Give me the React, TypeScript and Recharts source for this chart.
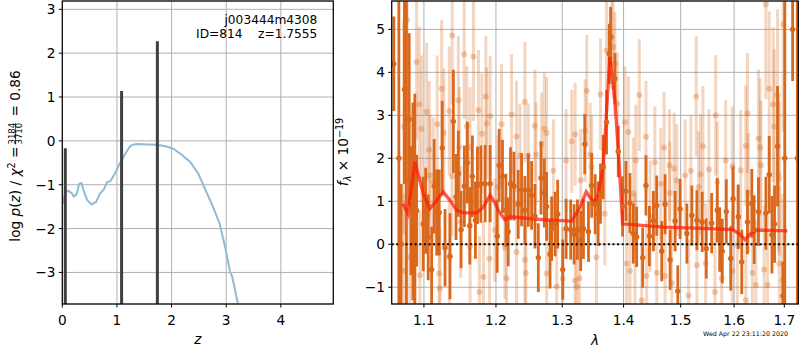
import React from "react";
import {
  CartesianGrid,
  ComposedChart,
  ErrorBar,
  Line,
  ReferenceLine,
  Scatter,
  XAxis,
  YAxis,
} from "recharts";

const FONT = "DejaVu Sans, sans-serif";
const GRID = "#b0b0b0";
const DARK = "#d9681c";
const LIGHT_BAR = "rgba(217,104,28,0.28)";
const LIGHT_DOT = "rgba(217,104,28,0.32)";

// left panel: log p(z)
const pzZ = [0.02, 0.05, 0.11, 0.17, 0.21, 0.26, 0.31, 0.35, 0.4, 0.46, 0.54, 0.62, 0.69, 0.76, 0.82, 0.88, 0.96, 1.05, 1.15, 1.24, 1.3, 1.39, 1.54, 1.73, 1.91, 2.03, 2.18, 2.34, 2.49, 2.61, 2.76, 2.88, 2.98, 3.07, 3.11, 3.2, 3.24];
const pzLog = [-1.43, -1.17, -1.14, -1.19, -1.27, -1.22, -0.98, -0.96, -1.17, -1.36, -1.45, -1.39, -1.2, -1.11, -0.94, -0.92, -0.75, -0.52, -0.3, -0.12, -0.08, -0.07, -0.08, -0.09, -0.13, -0.18, -0.31, -0.48, -0.75, -1.09, -1.51, -1.89, -2.42, -2.98, -3.1, -3.63, -3.86];
const spikeZ = [0.055, 1.085, 1.74];
const spikeTop = [-0.17, 1.14, 2.27];
const zTicks = [0, 1, 2, 3, 4];
const pTicks = [-3, -2, -1, 0, 1, 2, 3];

// right panel: spectrum, [lambda, flux, error]
const darkPts = [
  [1.0607, 4.2, 1.1], [1.0672, 2.0, 5.0], [1.0702, 0.0, 1.4], [1.0744, 3.6, 2.2],
  [1.077, 1.5, 5.0], [1.0806, 2.91, 2.0], [1.0829, 0.78, 1.5], [1.0855, 1.0, 2.3],
  [1.088, 0.5, 3.0], [1.0903, 0.78, 1.3], [1.0991, 0.47, 1.1], [1.1023, 0.78, 1.0],
  [1.1057, 0.16, 1.0], [1.1103, -0.59, 1.0], [1.1137, 1.35, 1.1], [1.1171, 0.74, 1.0],
  [1.1205, 0.74, 1.0], [1.1246, 2.24, 1.1], [1.1284, -0.08, 0.9], [1.1352, -0.28, 1.0],
  [1.1398, 2.86, 1.2], [1.1435, 1.1, 1.0], [1.1467, 1.64, 1.0], [1.1505, 0.34, 0.9],
  [1.1551, 1.35, 0.95], [1.1593, 1.9, 0.95], [1.1627, 0.43, 0.9], [1.1663, 1.58, 0.95],
  [1.1706, 0.56, 0.9], [1.1735, 1.37, 0.9], [1.1783, 1.4, 0.9], [1.1844, 1.41, 0.9],
  [1.1916, 1.41, 0.9], [1.2018, 0.19, 0.85], [1.2047, 1.84, 0.85], [1.2095, 1.58, 0.85],
  [1.2145, 0.79, 0.85], [1.2179, 0.29, 0.8], [1.2213, 1.41, 0.85], [1.2263, 1.35, 0.8],
  [1.2327, 0.93, 0.8], [1.2377, 1.27, 0.85], [1.2427, 0.79, 0.8], [1.2478, 1.26, 0.85],
  [1.2528, 1.14, 0.8], [1.2579, 0.65, 0.75], [1.263, -0.31, 0.8], [1.2671, 1.54, 0.85],
  [1.2722, 1.19, 0.8], [1.2757, 0.88, 0.8], [1.281, -0.23, 0.8], [1.2835, 0.36, 0.75],
  [1.2888, 0.47, 0.75], [1.2929, 0.7, 0.8], [1.3008, -0.59, 0.7], [1.3061, 0.36, 0.7],
  [1.3134, 0.34, 0.7], [1.3188, 0.23, 0.7], [1.3241, 0.34, 0.7], [1.3294, 0.08, 0.7],
  [1.3338, 0.36, 0.7], [1.3359, 2.33, 0.7], [1.3419, 0.29, 0.7], [1.3472, 1.37, 0.75],
  [1.3528, 0.93, 0.7], [1.3577, 0.71, 0.75], [1.3615, 1.18, 0.7], [1.366, 1.8, 0.75],
  [1.3715, 2.84, 0.75], [1.376, 4.43, 0.7], [1.3782, 4.82, 0.7], [1.3854, 3.85, 0.6],
  [1.3911, 2.16, 0.6], [1.3984, 0.88, 0.7], [1.404, 1.24, 0.7], [1.4108, 0.96, 0.7],
  [1.4166, 0.25, 0.7], [1.4223, 0.17, 0.7], [1.4327, -0.31, 0.7], [1.4384, 1.37, 0.7],
  [1.4444, 0.19, 0.7], [1.4514, 0.54, 0.7], [1.4572, 0.9, 0.7], [1.4661, -0.16, 0.7],
  [1.472, 0.93, 0.7], [1.481, -0.36, 0.7], [1.49, 0.54, 0.7], [1.4948, -1.09, 0.6],
  [1.499, 0.82, 0.7], [1.5113, 0.25, 0.7], [1.5204, 0.67, 0.7], [1.5297, 0.56, 0.7],
  [1.5395, 0.52, 0.7], [1.5471, -0.1, 0.7], [1.5572, 0.49, 0.7], [1.5678, 0.79, 0.75],
  [1.5724, 0.11, 0.75], [1.5773, -0.16, 0.75], [1.585, 0.76, 0.75], [1.5935, -0.33, 0.75],
  [1.598, 1.06, 0.75], [1.6082, 0.64, 0.75], [1.6149, -0.41, 0.75], [1.626, 0.52, 0.75],
  [1.6346, 0.95, 0.8], [1.6392, 0.34, 0.8], [1.6478, 0.76, 0.8], [1.6626, 0.72, 0.85],
  [1.6693, 1.62, 0.9], [1.6748, 0.22, 0.9], [1.6801, 0.47, 0.9], [1.6862, 2.28, 1.4],
  [1.697, -1.2, 0.8], [1.701, 2.0, 5.0], [1.7172, 5.0, 1.2], [1.727, 2.0, 5.0],
];

const lightPts = [
  [1.0779, 5.22, 2.0], [1.0735, 2.74, 2.5], [1.0903, 4.24, 1.8], [1.0937, 3.26, 1.8],
  [1.0969, 2.69, 1.7], [1.1036, 3.08, 1.6], [1.1071, 2.2, 1.6], [1.1124, 1.45, 1.5],
  [1.1178, 2.79, 1.6], [1.1238, 3.62, 1.6], [1.1269, 2.59, 1.5], [1.1342, 3.1, 1.5],
  [1.1383, 4.86, 1.6], [1.1379, 1.58, 1.4], [1.1467, 3.35, 1.5], [1.1481, 2.26, 1.4],
  [1.1547, 4.42, 1.5], [1.1584, 2.74, 1.4], [1.1678, 4.37, 1.5], [1.1631, 2.26, 1.4],
  [1.1749, 3.12, 1.4], [1.1797, 2.57, 1.4], [1.1854, 3.44, 1.4], [1.1916, 2.98, 1.4],
  [1.1868, 2.81, 1.3], [1.0815, -0.3, 1.6], [1.0867, -0.3, 1.5], [1.0947, -0.72, 1.5],
  [1.1205, -0.68, 1.4], [1.1215, -1.03, 1.4], [1.1342, -0.3, 1.4], [1.15, 0.52, 1.3],
  [1.1631, -0.06, 1.3], [1.1763, -1.11, 1.3], [1.182, -0.76, 1.3], [1.1906, -0.33, 1.3],
  [1.0744, -0.62, 1.8], [1.088, -0.12, 1.6], [1.108, 1.6, 1.4],
  [1.2427, 3.31, 1.4], [1.2228, 3.02, 1.4], [1.2081, 2.79, 1.4], [1.2302, 2.51, 1.3],
  [1.2579, 2.76, 1.3], [1.2722, 2.69, 1.3], [1.2757, 2.59, 1.3], [1.268, 2.33, 1.2],
  [1.3391, 3.57, 1.3], [1.3365, 2.64, 1.2], [1.3204, 2.56, 1.2], [1.315, 2.39, 1.2],
  [1.3061, 1.95, 1.2], [1.2862, 1.71, 1.2], [1.2594, 2.09, 1.2], [1.2478, 2.07, 1.2],
  [1.2353, 2.07, 1.2], [1.3446, 2.09, 1.2], [1.3472, 1.8, 1.2], [1.213, -0.08, 1.2],
  [1.2302, -0.18, 1.2], [1.2427, -0.36, 1.2], [1.2442, -0.67, 1.2], [1.2757, -0.68, 1.2],
  [1.2913, -0.98, 1.2], [1.3008, -0.8, 1.2], [1.3204, -0.85, 1.2], [1.323, -0.99, 1.2],
  [1.3273, -0.79, 1.2], [1.2032, 1.33, 1.2], [1.1985, 0.33, 1.2], [1.2154, -0.79, 1.2],
  [1.3294, 1.49, 1.2],
  [1.3615, 3.49, 1.3], [1.3715, 4.51, 1.2], [1.3798, 4.82, 1.2], [1.3826, 4.59, 1.2],
  [1.3854, 4.2, 1.2], [1.3894, 3.27, 1.2], [1.4023, 2.84, 1.3], [1.4081, 2.61, 1.3],
  [1.4211, 1.95, 1.3], [1.4269, 3.47, 1.3], [1.4384, 2.5, 1.3], [1.454, 1.91, 1.3],
  [1.4643, 1.41, 1.3], [1.4702, 2.25, 1.3], [1.4798, 1.84, 1.3], [1.4881, 1.76, 1.3],
  [1.4805, 1.19, 1.2], [1.493, 1.49, 1.3], [1.5082, 1.6, 1.3], [1.5186, 1.71, 1.3],
  [1.5284, 3.44, 1.4], [1.5328, 1.33, 1.3], [1.3686, 0.71, 1.2], [1.3549, -0.3, 1.2],
  [1.4052, -0.45, 1.3], [1.4108, -0.62, 1.3], [1.4396, -0.74, 1.3], [1.4572, -0.66, 1.3],
  [1.472, -0.74, 1.3], [1.4839, -0.91, 1.3], [1.431, -1.3, 1.3], [1.5144, -1.19, 1.3],
  [1.5297, -0.49, 1.3], [1.4194, -0.14, 1.3], [1.4455, 0.65, 1.3], [1.4166, 1.18, 1.3],
  [1.5409, 2.28, 1.4], [1.5648, 3.0, 1.4], [1.626, 3.05, 1.4], [1.6228, 2.29, 1.4],
  [1.6478, 2.46, 1.6], [1.6512, 2.26, 1.6], [1.6693, 3.62, 1.8], [1.6774, 3.25, 1.8],
  [1.6862, 3.47, 2.0], [1.6795, 2.74, 1.8], [1.6979, 5.12, 2.5], [1.6626, 5.58, 2.2],
  [1.5365, 1.63, 1.4], [1.5521, 1.74, 1.4], [1.5838, 1.95, 1.4], [1.5966, 1.81, 1.4],
  [1.6129, 1.72, 1.4], [1.628, 1.19, 1.4], [1.6526, 1.84, 1.5], [1.6883, 1.64, 1.8],
  [1.6897, 1.53, 1.8], [1.5678, 1.45, 1.4], [1.5459, -0.45, 1.4], [1.5634, -1.11, 1.4],
  [1.5762, -0.79, 1.4], [1.5966, -0.62, 1.4], [1.6228, -1.3, 1.4], [1.6358, -0.67, 1.4],
  [1.6592, -0.59, 1.5], [1.6659, -0.95, 1.6], [1.6426, -0.95, 1.5], [1.6897, -0.45, 1.8],
  [1.6965, -0.83, 2.0], [1.6062, -0.02, 1.4],
];

const modelLam = [1.0724, 1.0789, 1.0881, 1.0991, 1.108, 1.1171, 1.126, 1.1352, 1.1445, 1.1537, 1.1726, 1.182, 1.1916, 1.1989, 1.2032, 1.213, 1.2204, 1.2707, 1.315, 1.3285, 1.3382, 1.3457, 1.3529, 1.3583, 1.366, 1.377, 1.3854, 1.3911, 1.3984, 1.4052, 1.4691, 1.5389, 1.5965, 1.6095, 1.6212, 1.6324, 1.6456, 1.7065];
const modelF = [0.94, 0.71, 1.91, 1.18, 0.83, 1.02, 1.22, 1.02, 0.79, 0.73, 0.73, 0.87, 1.14, 0.95, 0.79, 0.57, 0.64, 0.57, 0.54, 0.87, 1.22, 1.06, 0.98, 1.2, 1.8, 4.36, 3.35, 2.19, 0.47, 0.47, 0.4, 0.37, 0.34, 0.25, 0.11, 0.25, 0.33, 0.31];
const lamTicks = [1.1, 1.2, 1.3, 1.4, 1.5, 1.6, 1.7];
const fTicks = [-1, 0, 1, 2, 3, 4, 5];

const minus = (v: number) => String(v).replace("-", "\u2212");

function XTick(props: any) {
  const { x, y, payload, fmt } = props;
  return (
    <text x={x} y={y} dy={14} textAnchor="middle" fontSize={13.7} fontFamily={FONT} fill="#000">
      {fmt(payload.value)}
    </text>
  );
}

function YTick(props: any) {
  const { x, y, payload } = props;
  return (
    <text x={x} y={y} dy={5} textAnchor="end" fontSize={13.7} fontFamily={FONT} fill="#000">
      {minus(payload.value)}
    </text>
  );
}

const rows = (pts: number[][]) => pts.map(([lam, f, err]) => ({ lam, f, err }));

const tickLine = { stroke: "#000", strokeWidth: 1 };
const rightMargin = { top: 1, right: 1.7, bottom: 0, left: 0 };

// shared axes of the spectrum panel; the second copy only carries the data
function SpecAxes({ withTicks }: { withTicks: boolean }) {
  return [
    <XAxis
      key="x"
      dataKey="lam"
      type="number"
      scale="log"
      domain={[1.058, 1.729]}
      ticks={lamTicks}
      interval={0}
      allowDataOverflow
      height={46}
      tickSize={3.5}
      tickMargin={3.5}
      axisLine={false}
      tickLine={withTicks ? tickLine : false}
      tick={withTicks ? (p: any) => <XTick {...p} fmt={(v: number) => v.toFixed(1)} /> : false}
    />,
    <YAxis
      key="y"
      dataKey="f"
      type="number"
      domain={[-1.39, 5.66]}
      ticks={fTicks}
      interval={0}
      allowDataOverflow
      width={51.7}
      tickSize={3.5}
      tickMargin={3.3}
      axisLine={false}
      tickLine={withTicks ? tickLine : false}
      tick={withTicks ? (p: any) => <YTick {...p} /> : false}
    />,
  ];
}

export default function App() {
  const pzData = pzZ.map((z, i) => ({ z, v: pzLog[i] }));
  const spikes = spikeZ.map((z, i) => [
    { z, v: -4 },
    { z, v: spikeTop[i] },
  ]);
  const model = modelLam.map((lam, i) => ({ lam, f: modelF[i] }));

  return (
    <div style={{ position: "absolute", left: 0, top: 0, width: 800, height: 350, background: "#fff" }}>
      <div style={{ position: "absolute", left: 0, top: 0 }}>
        <ComposedChart width={340} height={350} margin={{ top: 1, right: 6.7, bottom: 0, left: 0 }}>
          <CartesianGrid stroke={GRID} strokeWidth={1} />
          <XAxis
            dataKey="z"
            type="number"
            domain={[0, 4.96]}
            ticks={zTicks}
            interval={0}
            allowDataOverflow
            height={46}
            tickSize={3.5}
            tickMargin={3.5}
            axisLine={false}
            tickLine={tickLine}
            tick={(p: any) => <XTick {...p} fmt={(v: number) => String(v)} />}
          />
          <YAxis
            dataKey="v"
            type="number"
            domain={[-3.72, 3.19]}
            ticks={pTicks}
            interval={0}
            allowDataOverflow
            width={62.3}
            tickSize={3.5}
            tickMargin={3.3}
            axisLine={false}
            tickLine={tickLine}
            tick={(p: any) => <YTick {...p} />}
          />
          <Line data={pzData} dataKey="v" stroke="#8fbbd9" strokeWidth={2} dot={false} isAnimationActive={false} />
          {spikes.map((s, i) => (
            <Line key={i} data={s} dataKey="v" stroke="#404040" strokeWidth={3} dot={false} isAnimationActive={false} />
          ))}
        </ComposedChart>
      </div>
      <div style={{ position: "absolute", left: 340, top: 0 }}>
        <ComposedChart width={460} height={350} margin={rightMargin}>
          <CartesianGrid stroke={GRID} strokeWidth={1} />
          {SpecAxes({ withTicks: true })}
        </ComposedChart>
      </div>
      <div
        style={{
          position: "absolute",
          left: 340,
          top: 0,
          width: 460,
          height: 350,
          clipPath: "inset(1px 1.7px 46px 51.7px)",
        }}
      >
        <ComposedChart width={460} height={350} margin={rightMargin}>
          {SpecAxes({ withTicks: false })}
          <Scatter
            data={rows(lightPts)}
            dataKey="f"
            isAnimationActive={false}
            shape={(p: any) => <circle cx={p.cx} cy={p.cy} r={3} fill={LIGHT_DOT} />}
          >
            <ErrorBar dataKey="err" direction="y" width={0} stroke={LIGHT_BAR} strokeWidth={3} isAnimationActive={false} />
          </Scatter>
          <Scatter
            data={rows(darkPts)}
            dataKey="f"
            isAnimationActive={false}
            shape={(p: any) => <circle cx={p.cx} cy={p.cy} r={2.7} fill={DARK} />}
          >
            <ErrorBar dataKey="err" direction="y" width={0} stroke={DARK} strokeWidth={2.8} isAnimationActive={false} />
          </Scatter>
          <Line
            data={model}
            dataKey="f"
            stroke="#ff1a0a"
            strokeOpacity={0.72}
            strokeWidth={3.3}
            dot={false}
            isAnimationActive={false}
          />
          <ReferenceLine y={0} stroke="#000" strokeWidth={2} strokeDasharray="2 2.6" />
        </ComposedChart>
      </div>
      <svg
        width={800}
        height={350}
        style={{ position: "absolute", left: 0, top: 0, pointerEvents: "none" }}
        fontFamily={FONT}
        fill="#000"
      >
        <rect x={62.3} y={1} width={271} height={303} fill="none" stroke="#000" strokeWidth={1.2} />
        <rect x={391.7} y={1} width={406.6} height={303} fill="none" stroke="#000" strokeWidth={1.2} />
        <text x={317.3} y={24} textAnchor="end" fontSize={12.2}>j003444m4308</text>
        <text x={317.3} y={38} textAnchor="end" fontSize={12.2} style={{ whiteSpace: "pre" }}>
          {"ID=814    z=1.7555"}
        </text>
        <text x={197.8} y={344} textAnchor="middle" fontSize={13.7} fontStyle="italic">z</text>
        <text x={595} y={345} textAnchor="middle" fontSize={13.7} fontStyle="italic">λ</text>
        <text x={788} y={336} textAnchor="end" fontSize={6.3}>Wed Apr 22 23:11:20 2020</text>
        <g transform="translate(19.5,156) rotate(-90)">
          <text x={9.5} y={0} textAnchor="end" fontSize={13.7} style={{ whiteSpace: "pre" }}>
            {"log "}
            <tspan fontStyle="italic">p</tspan>(<tspan fontStyle="italic">z</tspan>){" / "}
            <tspan fontStyle="italic">χ</tspan>
            <tspan fontSize={9.6} dy={-5}>2</tspan>
            <tspan dy={5}>{" ="}</tspan>
          </text>
          <text x={22.3} y={-5} textAnchor="middle" fontSize={8.5}>3184</text>
          <line x1={11.5} x2={33.1} y1={-3.9} y2={-3.9} stroke="#000" strokeWidth={0.7} />
          <text x={22.3} y={2.6} textAnchor="middle" fontSize={8.5}>3710</text>
          <text x={35.1} y={0} textAnchor="start" fontSize={13.7} style={{ whiteSpace: "pre" }}>
            {" = 0.86"}
          </text>
        </g>
        <g transform="translate(348,152) rotate(-90)">
          <text x={0} y={0} textAnchor="middle" fontSize={13.7} style={{ whiteSpace: "pre" }}>
            <tspan fontStyle="italic">f</tspan>
            <tspan fontSize={9.6} fontStyle="italic" dy={3}>λ</tspan>
            <tspan dy={-3}>{" × 10"}</tspan>
            <tspan fontSize={9.6} dy={-5.5}>−19</tspan>
          </text>
        </g>
      </svg>
    </div>
  );
}
